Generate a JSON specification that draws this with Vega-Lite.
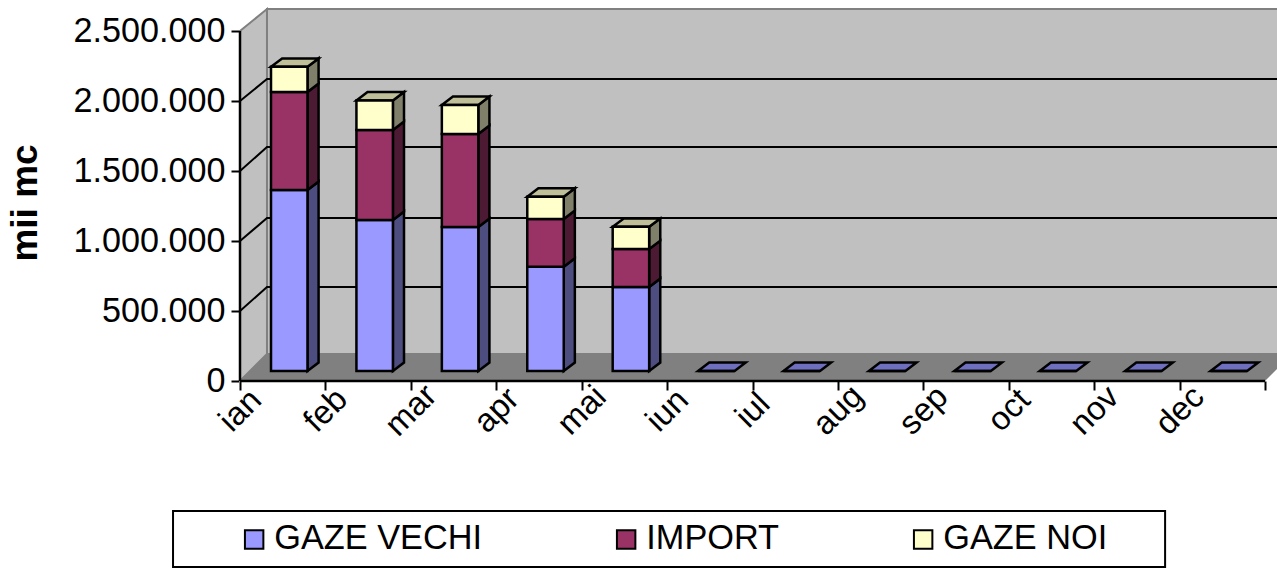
{"$schema":"https://vega.github.io/schema/vega-lite/v6.json","width":1037,"height":372,"autosize":{"type":"none"},"padding":{"left":240,"top":9,"right":0,"bottom":187},"background":"white","config":{"view":{"stroke":null},"font":"Liberation Sans"},"datasets":{"bars":[{"month":"ian","series":"GAZE VECHI","value":1293000},{"month":"ian","series":"IMPORT","value":700000},{"month":"ian","series":"GAZE NOI","value":180000},{"month":"feb","series":"GAZE VECHI","value":1079000},{"month":"feb","series":"IMPORT","value":643000},{"month":"feb","series":"GAZE NOI","value":210000},{"month":"mar","series":"GAZE VECHI","value":1029000},{"month":"mar","series":"IMPORT","value":664000},{"month":"mar","series":"GAZE NOI","value":207000},{"month":"apr","series":"GAZE VECHI","value":745000},{"month":"apr","series":"IMPORT","value":341000},{"month":"apr","series":"GAZE NOI","value":159000},{"month":"mai","series":"GAZE VECHI","value":600000},{"month":"mai","series":"IMPORT","value":271000},{"month":"mai","series":"GAZE NOI","value":159000},{"month":"iun","series":"GAZE VECHI","value":0},{"month":"iul","series":"GAZE VECHI","value":0},{"month":"aug","series":"GAZE VECHI","value":0},{"month":"sep","series":"GAZE VECHI","value":0},{"month":"oct","series":"GAZE VECHI","value":0},{"month":"nov","series":"GAZE VECHI","value":0},{"month":"dec","series":"GAZE VECHI","value":0}],"leftWall":[{"x":0,"lo":0,"hi":2500000},{"x":0.316,"lo":192857,"hi":2657143}],"floor":[{"y":0,"x":0,"x2":12},{"y":192857,"x":0.316,"x2":12.316}],"grid":[{"g":500000,"x":0,"y":500000},{"g":500000,"x":0.316,"y":671429},{"g":500000,"x":12.316,"y":671429},{"g":1000000,"x":0,"y":1000000},{"g":1000000,"x":0.316,"y":1164286},{"g":1000000,"x":12.316,"y":1164286},{"g":1500000,"x":0,"y":1500000},{"g":1500000,"x":0.316,"y":1671429},{"g":1500000,"x":12.316,"y":1671429},{"g":2000000,"x":0,"y":2000000},{"g":2000000,"x":0.316,"y":2157143},{"g":2000000,"x":12.316,"y":2157143}]},"layer":[{"data":{"name":"leftWall"},"mark":{"type":"area","fill":"#c0c0c0","stroke":"#808080","strokeWidth":2},"encoding":{"x":{"field":"x","type":"quantitative","scale":{"domain":[0,12.14],"nice":false,"zero":false},"axis":{"values":[0,1,2,3,4,5,6,7,8,9,10,11,12],"title":null,"domain":false,"grid":false,"tickColor":"black","tickWidth":2,"tickSize":9,"labelExpr":"['ian','feb','mar','apr','mai','iun','iul','aug','sep','oct','nov','dec',''][datum.value]","labelAngle":-45,"labelAlign":"center","labelBaseline":"middle","labelPadding":20,"labelFontSize":33,"labelColor":"black","labelOverlap":false,"labelBound":false,"labelFlush":false}},"y":{"field":"lo","type":"quantitative","stack":null,"scale":{"domain":[0,2657143],"nice":false,"zero":false},"axis":{"values":[0,500000,1000000,1500000,2000000,2500000],"title":"mii mc","titleFontSize":37,"titleFontWeight":"bold","titleColor":"black","titleX":-204,"titleY":193.5,"titleBaseline":"alphabetic","titleAlign":"center","domain":false,"grid":false,"tickColor":"black","tickWidth":2,"tickSize":9,"labelExpr":"replace(format(datum.value,','),/,/g,'.')","labelPadding":6,"labelFontSize":34.2,"labelColor":"black","labelOverlap":false,"labelBound":false,"labelFlush":false}},"y2":{"field":"hi"}}},{"data":{"values":[{}]},"mark":{"type":"rect","fill":"#c0c0c0","stroke":"#808080","strokeWidth":2},"encoding":{"x":{"datum":0.316},"x2":{"datum":12.4},"y":{"datum":192857},"y2":{"datum":2657143}}},{"data":{"name":"floor"},"mark":{"type":"area","orient":"horizontal","fill":"#808080"},"encoding":{"y":{"field":"y","type":"quantitative"},"x":{"field":"x","type":"quantitative","stack":null},"x2":{"field":"x2"}}},{"data":{"name":"grid"},"mark":{"type":"line","color":"black","strokeWidth":2},"encoding":{"x":{"field":"x","type":"quantitative"},"y":{"field":"y","type":"quantitative"},"detail":{"field":"g"}}},{"data":{"values":[{}]},"mark":{"type":"rule","color":"black","strokeWidth":2.5},"encoding":{"x":{"datum":0},"y":{"datum":0},"y2":{"datum":2500000}}},{"data":{"values":[{}]},"mark":{"type":"rule","color":"black","strokeWidth":2.5},"encoding":{"y":{"datum":0},"x":{"datum":0},"x2":{"datum":12}}},{"data":{"name":"bars"},"transform":[{"calculate":"indexof(['GAZE VECHI','IMPORT','GAZE NOI'],datum.series)","as":"rank"},{"stack":"value","groupby":["month"],"sort":[{"field":"rank","order":"ascending"}],"as":["v0","v1"]},{"calculate":"indexof(['ian','feb','mar','apr','mai','iun','iul','aug','sep','oct','nov','dec'],datum.month)+0.363","as":"xl"},{"calculate":"datum.xl+0.427","as":"xr"},{"calculate":"[0,1]","as":"t"},{"flatten":["t"]},{"calculate":"datum.xr+datum.t*0.13","as":"sx"},{"calculate":"datum.v0+71429+datum.t*60000","as":"sy0"},{"calculate":"datum.v1+71429+datum.t*60000","as":"sy1"},{"calculate":"datum.month+datum.series","as":"id"},{"calculate":"['#4d4d80','#4d1a33','#80806a'][datum.rank]","as":"side"},{"filter":"datum.value>0"}],"mark":{"type":"area","stroke":"black","strokeWidth":2.5},"encoding":{"x":{"field":"sx","type":"quantitative"},"y":{"field":"sy0","type":"quantitative","stack":null},"y2":{"field":"sy1"},"detail":{"field":"id"},"fill":{"field":"side","type":"nominal","scale":null}}},{"data":{"name":"bars"},"transform":[{"calculate":"indexof(['GAZE VECHI','IMPORT','GAZE NOI'],datum.series)","as":"rank"},{"stack":"value","groupby":["month"],"sort":[{"field":"rank","order":"ascending"}],"as":["v0","v1"]},{"joinaggregate":[{"op":"max","field":"v1","as":"vmax"}],"groupby":["month"]},{"filter":"datum.v1==datum.vmax"},{"calculate":"indexof(['ian','feb','mar','apr','mai','iun','iul','aug','sep','oct','nov','dec'],datum.month)+0.363","as":"xl"},{"calculate":"[0,1]","as":"t"},{"flatten":["t"]},{"calculate":"datum.xl+datum.t*0.13","as":"tx"},{"calculate":"datum.xl+0.427+datum.t*0.13","as":"tx2"},{"calculate":"datum.v1+71429+datum.t*60000","as":"ty"},{"calculate":"['#6f6fbf','#73264c','#bfbf99'][datum.rank]","as":"top"}],"mark":{"type":"area","orient":"horizontal","stroke":"black","strokeWidth":2.5},"encoding":{"y":{"field":"ty","type":"quantitative"},"x":{"field":"tx","type":"quantitative","stack":null},"x2":{"field":"tx2"},"detail":{"field":"month"},"fill":{"field":"top","type":"nominal","scale":null}}},{"data":{"name":"bars"},"transform":[{"calculate":"indexof(['GAZE VECHI','IMPORT','GAZE NOI'],datum.series)","as":"rank"},{"stack":"value","groupby":["month"],"sort":[{"field":"rank","order":"ascending"}],"as":["v0","v1"]},{"calculate":"indexof(['ian','feb','mar','apr','mai','iun','iul','aug','sep','oct','nov','dec'],datum.month)+0.363","as":"xl"},{"calculate":"datum.xl+0.427","as":"xr"},{"calculate":"datum.v0+71429","as":"y0"},{"calculate":"datum.v1+71429","as":"y1"}],"mark":{"type":"rect","stroke":"black","strokeWidth":2.5},"encoding":{"x":{"field":"xl","type":"quantitative"},"x2":{"field":"xr"},"y":{"field":"y0","type":"quantitative"},"y2":{"field":"y1"},"fill":{"field":"series","type":"nominal","scale":{"domain":["GAZE VECHI","IMPORT","GAZE NOI"],"range":["#9999ff","#993366","#ffffcc"]},"legend":{"orient":"none","legendX":-3,"legendY":513,"title":null,"columns":3,"gridAlign":"each","columnPadding":126,"symbolType":"square","symbolSize":340,"symbolStrokeColor":"black","symbolStrokeWidth":2,"labelFontSize":34.3,"labelColor":"black","labelOffset":3,"padding":0,"labelLimit":400}}}},{"data":{"values":[{}]},"mark":{"type":"rect","fill":"transparent","stroke":"black","strokeWidth":2},"encoding":{"x":{"datum":-0.784},"x2":{"datum":10.83},"y":{"datum":-928571},"y2":{"datum":-1328571}}}]}
